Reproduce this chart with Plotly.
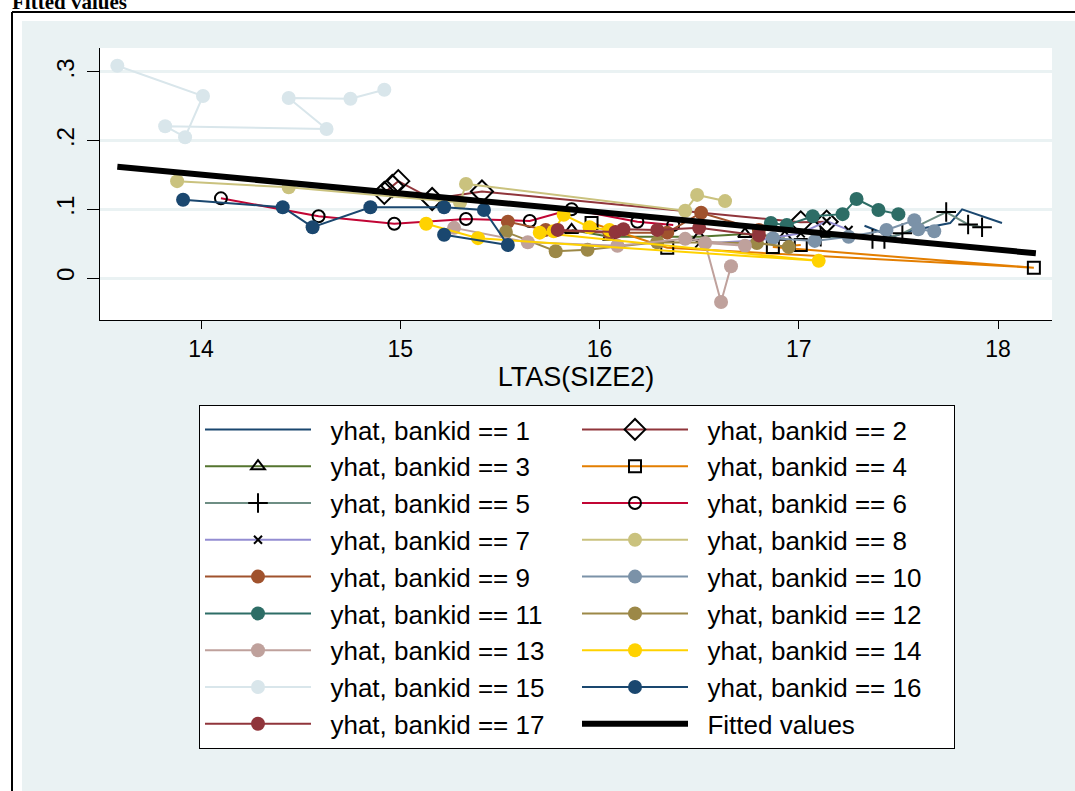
import plotly.graph_objects as go

# ---------------- data ----------------
s1_x = [17.33, 17.47, 17.58, 17.76, 17.82, 18.02]
s1_y = [0.076, 0.060, 0.070, 0.080, 0.100, 0.080]
s2_x = [14.92, 14.96, 14.99, 15.16, 15.41, 17.01, 17.14]
s2_y = [0.124, 0.134, 0.141, 0.115, 0.126, 0.081, 0.082]
s3_x = [15.86, 16.05, 16.50, 16.73, 16.93]
s3_y = [0.070, 0.060, 0.060, 0.064, 0.060]
s4_x = [15.96, 16.34, 18.18, 16.87, 17.01]
s4_y = [0.080, 0.044, 0.015, 0.045, 0.048]
s5_x = [17.11, 17.37, 17.43, 17.52, 17.74, 17.85, 17.92]
s5_y = [0.060, 0.057, 0.057, 0.065, 0.096, 0.078, 0.074]
s6_x = [14.10, 14.59, 14.97, 15.33, 15.65, 15.86, 16.19, 16.37]
s6_y = [0.116, 0.090, 0.079, 0.086, 0.083, 0.100, 0.082, 0.077]
s7_x = [16.50, 16.80, 17.01, 17.14, 17.25]
s7_y = [0.050, 0.055, 0.065, 0.083, 0.070]
s8_x = [13.88, 14.44, 15.30, 15.33, 16.43, 16.49, 16.63]
s8_y = [0.141, 0.132, 0.110, 0.137, 0.098, 0.121, 0.112]
s9_x = [15.54, 15.73, 16.05, 16.34, 16.51, 16.80]
s9_y = [0.082, 0.070, 0.066, 0.066, 0.095, 0.070]
s10_x = [16.87, 17.08, 17.25, 17.44, 17.58, 17.60, 17.68]
s10_y = [0.058, 0.054, 0.060, 0.070, 0.084, 0.071, 0.068]
s11_x = [16.86, 16.94, 17.07, 17.22, 17.29, 17.40, 17.50]
s11_y = [0.080, 0.077, 0.090, 0.093, 0.115, 0.099, 0.093]
s12_x = [15.53, 15.78, 15.94, 16.29, 16.79, 16.95]
s12_y = [0.067, 0.039, 0.041, 0.052, 0.051, 0.045]
s13_x = [15.27, 15.64, 16.09, 16.43, 16.73, 16.53, 16.61, 16.66]
s13_y = [0.073, 0.052, 0.047, 0.057, 0.047, 0.051, -0.035, 0.017]
s14_x = [15.13, 15.39, 17.10, 15.70, 15.77, 15.82, 15.95, 16.05]
s14_y = [0.079, 0.058, 0.025, 0.066, 0.068, 0.092, 0.074, 0.070]
s15_x = [13.58, 14.01, 13.92, 13.82, 14.63, 14.44, 14.75, 14.92]
s15_y = [0.309, 0.265, 0.205, 0.221, 0.217, 0.262, 0.261, 0.274]
s16_x = [13.91, 14.41, 14.56, 14.85, 15.22, 15.42, 15.54, 15.22]
s16_y = [0.114, 0.103, 0.074, 0.103, 0.103, 0.099, 0.048, 0.063]
s17_x = [15.79, 16.08, 16.12, 16.29, 16.50, 16.80]
s17_y = [0.070, 0.067, 0.071, 0.070, 0.073, 0.062]
fit_x = [13.58, 18.19]
fit_y = [0.162, 0.036]

y_tickvals = [0, 0.1, 0.2, 0.3]
y_ticktext = ["0", ".1", ".2", ".3"]
x_tickvals = [14, 15, 16, 17, 18]

# ---------------- styling ----------------
series = [
    (s1_x, s1_y, "#1a476f", None),
    (s2_x, s2_y, "#90353b", "diamond-open"),
    (s3_x, s3_y, "#55752f", "triangle-up-open"),
    (s4_x, s4_y, "#e37e00", "square-open"),
    (s5_x, s5_y, "#6e8e84", "cross-thin-open"),
    (s6_x, s6_y, "#c10534", "circle-open"),
    (s7_x, s7_y, "#938dd2", "x-thin-open"),
    (s8_x, s8_y, "#cac27e", "circle"),
    (s9_x, s9_y, "#a0522d", "circle"),
    (s10_x, s10_y, "#7b92a8", "circle"),
    (s11_x, s11_y, "#2d6d66", "circle"),
    (s12_x, s12_y, "#9c8847", "circle"),
    (s13_x, s13_y, "#bfa19c", "circle"),
    (s14_x, s14_y, "#ffd200", "circle"),
    (s15_x, s15_y, "#d9e6eb", "circle"),
    (s16_x, s16_y, "#1a476f", "circle"),
    (s17_x, s17_y, "#90353b", "circle"),
]

FONT = "Liberation Sans, Arial, sans-serif"
PAD = "\u00a0\u00a0"
fig = go.Figure()
for i, (xs, ys, col, sym) in enumerate(series, start=1):
    name = f"{PAD}yhat, bankid == {i}"
    if sym is None:
        fig.add_trace(go.Scatter(x=xs, y=ys, mode="lines", name=name,
                                 line=dict(color=col, width=2)))
    elif sym == "circle":
        fig.add_trace(go.Scatter(x=xs, y=ys, mode="lines+markers", name=name,
                                 line=dict(color=col, width=2),
                                 marker=dict(symbol="circle", size=14, color=col)))
    else:
        size = {"diamond-open": 17, "triangle-up-open": 12, "square-open": 12,
                "cross-thin-open": 14, "circle-open": 12, "x-thin-open": 8}[sym]
        fig.add_trace(go.Scatter(x=xs, y=ys, mode="lines+markers", name=name,
                                 line=dict(color=col, width=2),
                                 marker=dict(symbol=sym, size=size, color="black",
                                             line=dict(color="black", width=2))))
fig.add_trace(go.Scatter(x=fit_x, y=fit_y, mode="lines", name=f"{PAD}Fitted values",
                         line=dict(color="black", width=6)))

# plot area: x 100..1052 px, y 48..320 px
W, H = 1075, 791
L, R, T, B = 100, 1052, 48, 320
def px(xp):
    return (xp - L) / (R - L)
def py(yp):
    return (B - yp) / (B - T)

BG = "#eaf2f3"
fig.update_layout(
    width=W, height=H,
    margin=dict(l=L, r=W - R, t=T, b=H - B, pad=0),
    paper_bgcolor=BG, plot_bgcolor="white",
    font=dict(family=FONT, size=22, color="black"),
    showlegend=True,
    legend=dict(orientation="h", x=px(199), y=py(405), xanchor="left", yanchor="top",
                bgcolor="white", bordercolor="black", borderwidth=1,
                font=dict(family=FONT, size=26, color="black"),
                entrywidth=256, entrywidthmode="pixels", itemwidth=106,
                traceorder="normal"),
    xaxis=dict(range=[13.493, 18.271], tickvals=x_tickvals,
               showgrid=False, zeroline=False, showline=True, linecolor="black",
               linewidth=1, ticks="outside", ticklen=8, tickcolor="black",
               tickfont=dict(size=23),
               title=dict(text="LTAS(SIZE2)", font=dict(size=27), standoff=0)),
    yaxis=dict(range=[-0.06116, 0.3349], tickvals=y_tickvals, ticktext=y_ticktext,
               showgrid=True, gridcolor=BG, gridwidth=2.5, zeroline=False,
               showline=True, linecolor="black", linewidth=1, ticks="outside",
               ticklen=12, tickcolor="black", tickangle=-90, tickfont=dict(size=24),
               ticklabelstandoff=3),
    shapes=[
        dict(type="rect", xref="paper", yref="paper", x0=px(-5), x1=px(22), y0=py(800), y1=py(-5),
             fillcolor="white", line=dict(width=0), layer="above"),
        dict(type="rect", xref="paper", yref="paper", x0=px(-5), x1=px(1080), y0=py(21), y1=py(-5),
             fillcolor="white", line=dict(width=0), layer="above"),
        dict(type="line", xref="paper", yref="paper", x0=px(12), x1=px(12), y0=py(800), y1=py(12),
             line=dict(color="black", width=2), layer="above"),
        dict(type="line", xref="paper", yref="paper", x0=px(12), x1=px(1080), y0=py(12), y1=py(12),
             line=dict(color="black", width=2), layer="above"),
    ],
    annotations=[
        dict(text="<b>Fitted values</b>", xref="paper", yref="paper", x=px(10), y=py(16),
             xanchor="left", yanchor="bottom", showarrow=False,
             font=dict(family="Liberation Serif, Times New Roman, serif", size=21, color="black")),
    ],
)

fig.write_html("out.html", config={"displayModeBar": False},
               post_script="document.body.style.margin='0px';document.body.style.padding='0px';")
